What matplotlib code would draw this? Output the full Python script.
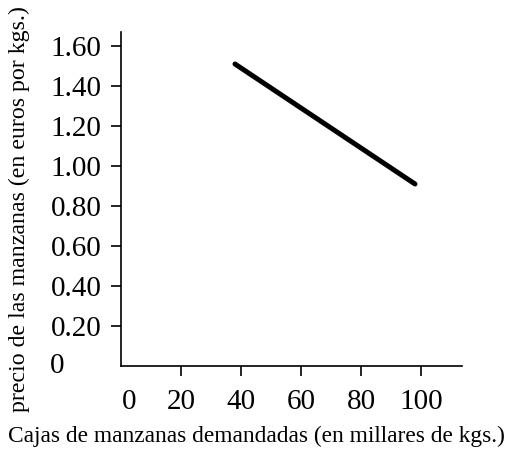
import matplotlib
matplotlib.use("Agg")
import matplotlib.pyplot as plt
from matplotlib.transforms import ScaledTranslation

# Data
quantity = [38, 98]           # miles de kgs
price = [1.51, 0.91]          # euros por kg
x_ticks = [0, 20, 40, 60, 80, 100]
y_ticks = [0, 0.20, 0.40, 0.60, 0.80, 1.00, 1.20, 1.40, 1.60]
y_tick_labels = ["0", "0.20", "0.40", "0.60", "0.80", "1.00", "1.20", "1.40", "1.60"]
x_label = "Cajas de manzanas demandadas (en millares de kgs.)"
y_label = "precio de las manzanas (en euros por kgs.)"

plt.rcParams['font.family'] = ['Liberation Serif', 'DejaVu Serif']

W, H = 517, 449
fig = plt.figure(figsize=(W / 100, H / 100), dpi=100)
ax = fig.add_axes([121 / W, (H - 366) / H, (462 - 121) / W, (366 - 32) / H])

ax.plot(quantity, price, color='black', linewidth=3.6, solid_capstyle='round')

ax.set_xlim(0, (462 - 121) / 3)
ax.set_ylim(0, (366 - 32) / 200)

ax.spines['top'].set_visible(False)
ax.spines['right'].set_visible(False)
for s in ('left', 'bottom'):
    ax.spines[s].set_linewidth(1.2)

ax.set_xticks(x_ticks)
ax.set_xticklabels([str(t) for t in x_ticks])
ax.set_yticks(y_ticks)
ax.set_yticklabels(y_tick_labels)
ax.tick_params(axis='both', direction='out', length=7.5, width=1.2, labelsize=21)
ax.tick_params(axis='x', pad=9)
ax.tick_params(axis='y', pad=6.5)

# no tick marks at the origin
ax.xaxis.get_major_ticks()[0].tick1line.set_visible(False)
ax.yaxis.get_major_ticks()[0].tick1line.set_visible(False)

# the "0" labels sit off their ticks in the original
xl0 = ax.get_xticklabels()[0]
xl0.set_transform(xl0.get_transform() + ScaledTranslation(8 / 100, 0, fig.dpi_scale_trans))
yl0 = ax.get_yticklabels()[0]
yl0.set_transform(yl0.get_transform() + ScaledTranslation(-37 / 100, 3 / 100, fig.dpi_scale_trans))

fig.text(256 / W, (H - 436) / H, x_label, ha='center', va='center', fontsize=16.8)
fig.text(19 / W, (H - 209) / H, y_label, ha='center', va='center', rotation=90, fontsize=17.2)

fig.savefig("out.png", dpi=100)
